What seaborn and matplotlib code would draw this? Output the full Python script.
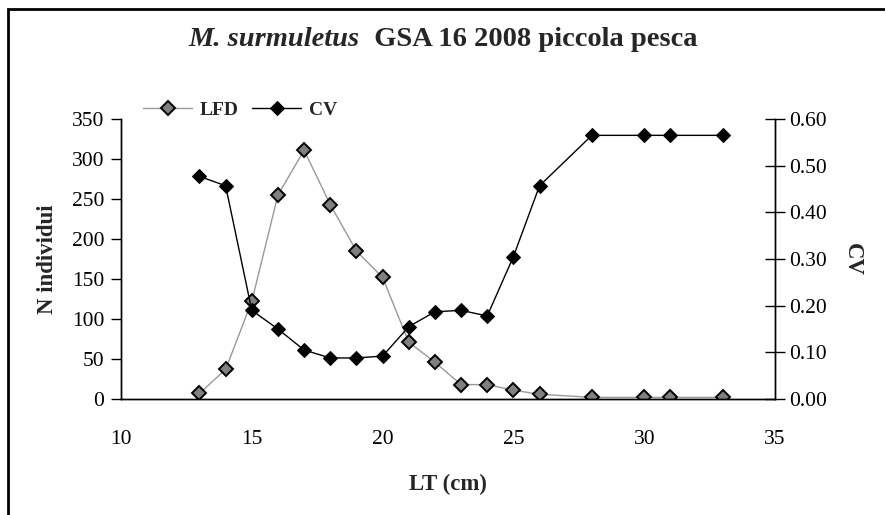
import numpy as np
import pandas as pd
import matplotlib
matplotlib.use("Agg")
import matplotlib.pyplot as plt
import seaborn as sns
from matplotlib.patches import Rectangle

# %% data
lt_cm = [13, 14, 15, 16, 17, 18, 19, 20, 21, 22, 23, 24, 25, 26, 28, 30, 31, 33]
lfd = [7, 37, 122, 255, 311, 243, 185, 152, 71, 46, 18, 18, 11, 6, 2, 2, 2, 2]
cv = [0.477, 0.457, 0.190, 0.150, 0.105, 0.088, 0.088, 0.092, 0.155, 0.187,
      0.190, 0.178, 0.305, 0.457, 0.565, 0.565, 0.565, 0.565]
y_left_ticks = [0, 50, 100, 150, 200, 250, 300, 350]
y_right_ticks = [0.0, 0.1, 0.2, 0.3, 0.4, 0.5, 0.6]
x_ticks = [10, 15, 20, 25, 30, 35]

df = pd.DataFrame({"LT": lt_cm, "LFD": lfd, "CV": cv})

sns.set_theme(style="white")
plt.rcParams["font.family"] = ["Liberation Serif", "DejaVu Serif"]

fig = plt.figure(figsize=(8.85, 5.15), dpi=100)
ax = fig.add_axes([0.1367, 0.2252, 0.739, 0.5437])
ax2 = ax.twinx()

# %% lines
sns.lineplot(data=df, x="LT", y="LFD", ax=ax, color="#999999", lw=1,
             marker="D", markersize=7.5, markerfacecolor="#808080",
             markeredgecolor="black", markeredgewidth=1.4, label="LFD", legend=False)
sns.lineplot(data=df, x="LT", y="CV", ax=ax2, color="black", lw=1,
             marker="D", markersize=7.5, markerfacecolor="black",
             markeredgecolor="black", label="CV", legend=False)

ax.set_xlim(10, 35)
ax.set_ylim(0, 350)
ax2.set_ylim(0, 0.6)
ax.set_xticks(x_ticks)
ax.set_yticks(y_left_ticks)
ax2.set_yticks(y_right_ticks)
ax2.set_yticklabels([f"{v:.2f}" for v in y_right_ticks])

for a in (ax, ax2):
    for s in a.spines.values():
        s.set_color("black")
        s.set_linewidth(1)
    a.spines["top"].set_visible(False)
    a.grid(False)
    a.patch.set_visible(False)

ax.tick_params(axis="both", direction="out", length=7, width=1, colors="black",
               labelsize=15.5, pad=5)
ax.tick_params(axis="x", pad=15)
ax2.tick_params(axis="y", direction="inout", length=14, width=1, colors="black",
                labelsize=15.5, pad=3)

ax.set_xlabel("LT (cm)", fontsize=16.5, fontweight="bold", labelpad=18)
ax.set_ylabel("N individui", fontsize=16.5, fontweight="bold", labelpad=10)
ax2.set_ylabel("CV", fontsize=16.5, fontweight="bold", rotation=270, labelpad=26)

# %% legend
h1, l1 = ax.get_legend_handles_labels()
h2, l2 = ax2.get_legend_handles_labels()
ax.legend(h1 + h2, l1 + l2, loc="center left", bbox_to_anchor=(0.034, 1.032), ncol=2,
          frameon=False, prop={"weight": "bold", "size": 14},
          handlelength=2.5, handletextpad=0.4, columnspacing=0.7, borderaxespad=0,
          borderpad=0)

# %% title (italic species name + bold rest)
fig.canvas.draw()
r = fig.canvas.get_renderer()
ty = 1 - 40 / 515
t1 = fig.text(0.5, ty, "M. surmuletus", fontsize=20.5, fontweight="bold",
              fontstyle="italic", ha="left", va="center")
t2 = fig.text(0.5, ty, "  GSA 16 2008 piccola pesca", fontsize=20.5,
              fontweight="bold", ha="left", va="center")
w1 = t1.get_window_extent(r).width
w2 = t2.get_window_extent(r).width
x0 = 443 - (w1 + w2) / 2
t1.set_position((x0 / 885, ty))
t2.set_position(((x0 + w1) / 885, ty))

# %% outer frame
fig.patches.append(Rectangle((8 / 885, -0.1), 1.2, 1 - 9 / 515 + 0.1,
                             transform=fig.transFigure, fill=False,
                             edgecolor="black", lw=2, clip_on=False))

fig.savefig("out.png", dpi=100)
